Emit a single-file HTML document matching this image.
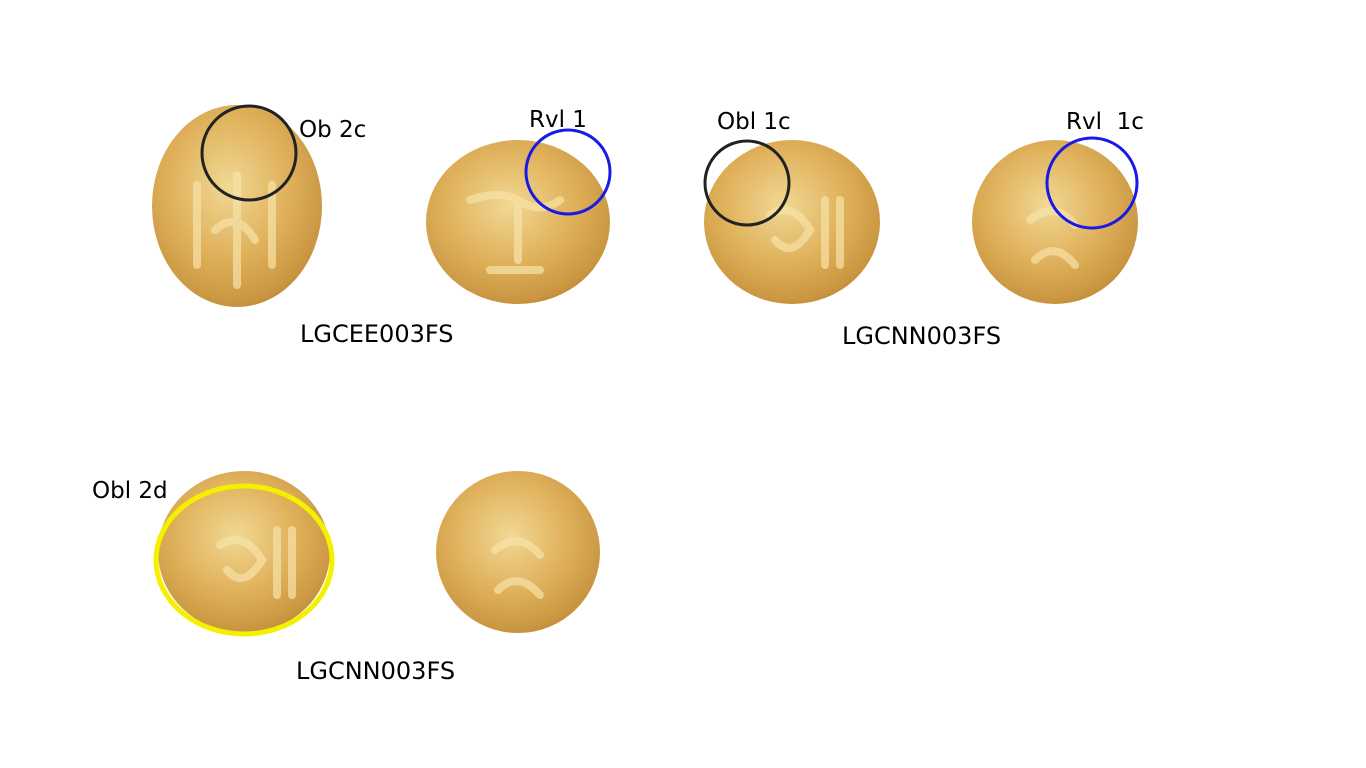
<!DOCTYPE html>
<html><head><meta charset="utf-8"><style>
html,body{margin:0;padding:0;background:#fff;}
svg{display:block;}
text{font-family:"DejaVu Sans","Liberation Sans",sans-serif;fill:#000;}
</style></head><body>
<svg width="1366" height="768" viewBox="0 0 1366 768" xmlns="http://www.w3.org/2000/svg">
<defs>
<radialGradient id="g" cx="45%" cy="40%" r="65%">
<stop offset="0" stop-color="#f1d894"/>
<stop offset="0.55" stop-color="#dfb05a"/>
<stop offset="0.9" stop-color="#c99540"/>
<stop offset="1" stop-color="#b8852f"/>
</radialGradient>
</defs>
<ellipse cx="237" cy="206" rx="85" ry="101" fill="url(#g)"/>
<ellipse cx="518" cy="222" rx="92" ry="82" fill="url(#g)"/>
<ellipse cx="792" cy="222" rx="88" ry="82" fill="url(#g)"/>
<ellipse cx="1055" cy="222" rx="83" ry="82" fill="url(#g)"/>
<ellipse cx="244" cy="552" rx="86" ry="81" fill="url(#g)"/>
<ellipse cx="518" cy="552" rx="82" ry="81" fill="url(#g)"/>
<g stroke="#f6e2a8" stroke-width="8" fill="none" stroke-linecap="round" opacity="0.7">
<path d="M197 185 V265 M272 185 V265 M237 175 V285 M215 230 Q237 210 255 240"/>
<path d="M470 200 Q500 190 518 200 Q540 215 560 200 M518 200 V260 M490 270 H540"/>
<path d="M770 215 Q792 200 810 230 Q792 260 775 240 M825 200 V265 M840 200 V265"/>
<path d="M1030 220 Q1055 200 1075 225 M1035 260 Q1055 240 1075 265"/>
<path d="M220 545 Q244 530 262 560 Q244 590 227 570 M277 530 V595 M292 530 V595"/>
<path d="M495 550 Q518 530 540 555 M498 590 Q518 570 540 595"/>
</g>
<circle cx="249" cy="153" r="47" fill="none" stroke="#222" stroke-width="3"/>
<circle cx="568" cy="172" r="42" fill="none" stroke="#1a1ae6" stroke-width="3"/>
<circle cx="747" cy="183" r="42" fill="none" stroke="#222" stroke-width="3"/>
<circle cx="1092" cy="183" r="45" fill="none" stroke="#1a1ae6" stroke-width="3"/>
<ellipse cx="244" cy="560" rx="88" ry="74" fill="none" stroke="#f5f000" stroke-width="5"/>
<text x="299" y="137" font-size="23">Ob 2c</text>
<text x="529" y="127" font-size="23">Rvl 1</text>
<text x="717" y="129" font-size="23">Obl 1c</text>
<text x="1066" y="129" font-size="23" xml:space="preserve">Rvl  1c</text>
<text x="300" y="342" font-size="24">LGCEE003FS</text>
<text x="842" y="344" font-size="24">LGCNN003FS</text>
<text x="92" y="498" font-size="23">Obl 2d</text>
<text x="296" y="679" font-size="24">LGCNN003FS</text>
</svg>
</body></html>
